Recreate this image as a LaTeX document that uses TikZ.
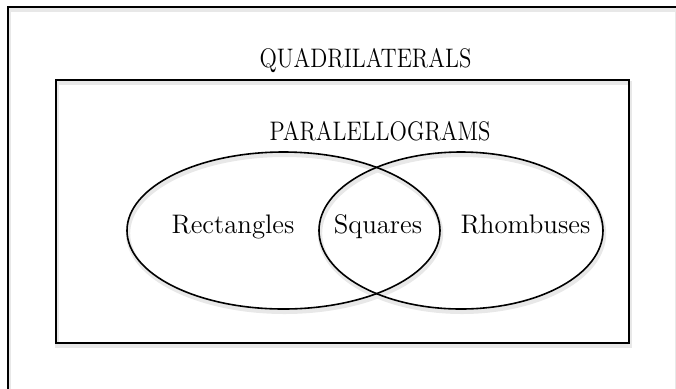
\documentclass[tikz,border=0pt]{standalone}
\usepackage{graphicx}

\tikzset{
  frame/.style={line width=0.8pt},
  halo/.style={line width=2.2pt, black!9, transform canvas={shift={(0.5pt,-1.4pt)}}},
  label/.style={anchor=base, inner sep=0pt, font=\fontsize{13.4}{16}\selectfont},
}
\newcommand{\narrow}[1]{\scalebox{0.85}[1]{#1}}

\begin{document}
\begin{tikzpicture}[x=0.5pt,y=-0.5pt]
        \useasboundingbox (0,0) rectangle (676,388);
        \clip (0,0) rectangle (676,388);

        % shadows
        \draw[halo] (8,7) rectangle (676.6,400);
        \draw[halo] (56,80) rectangle (629,343);
        \draw[halo] (283.5,230.5) ellipse [x radius=156.5, y radius=78.5];
        \draw[halo] (461,230.5) ellipse [x radius=142, y radius=78.5];

        % sets
        \draw[frame] (8,7) rectangle (676.6,400);
        \draw[frame] (56,80) rectangle (629,343);
        \draw[frame] (283.5,230.5) ellipse [x radius=156.5, y radius=78.5];
        \draw[frame] (461,230.5) ellipse [x radius=142, y radius=78.5];

        \node[label] (quad) at (365.5,67) {\narrow{QUADRILATERALS}};
        \node[label] (para) at (380,140) {\narrow{PARALELLOGRAMS}};
        \node[label] (rect) at (233,233) {Rectangles};
        \node[label] (squa) at (378,233) {Squares};
        \node[label] (rhom) at (525.5,233) {Rhombuses};
    \end{tikzpicture}
\end{document}
